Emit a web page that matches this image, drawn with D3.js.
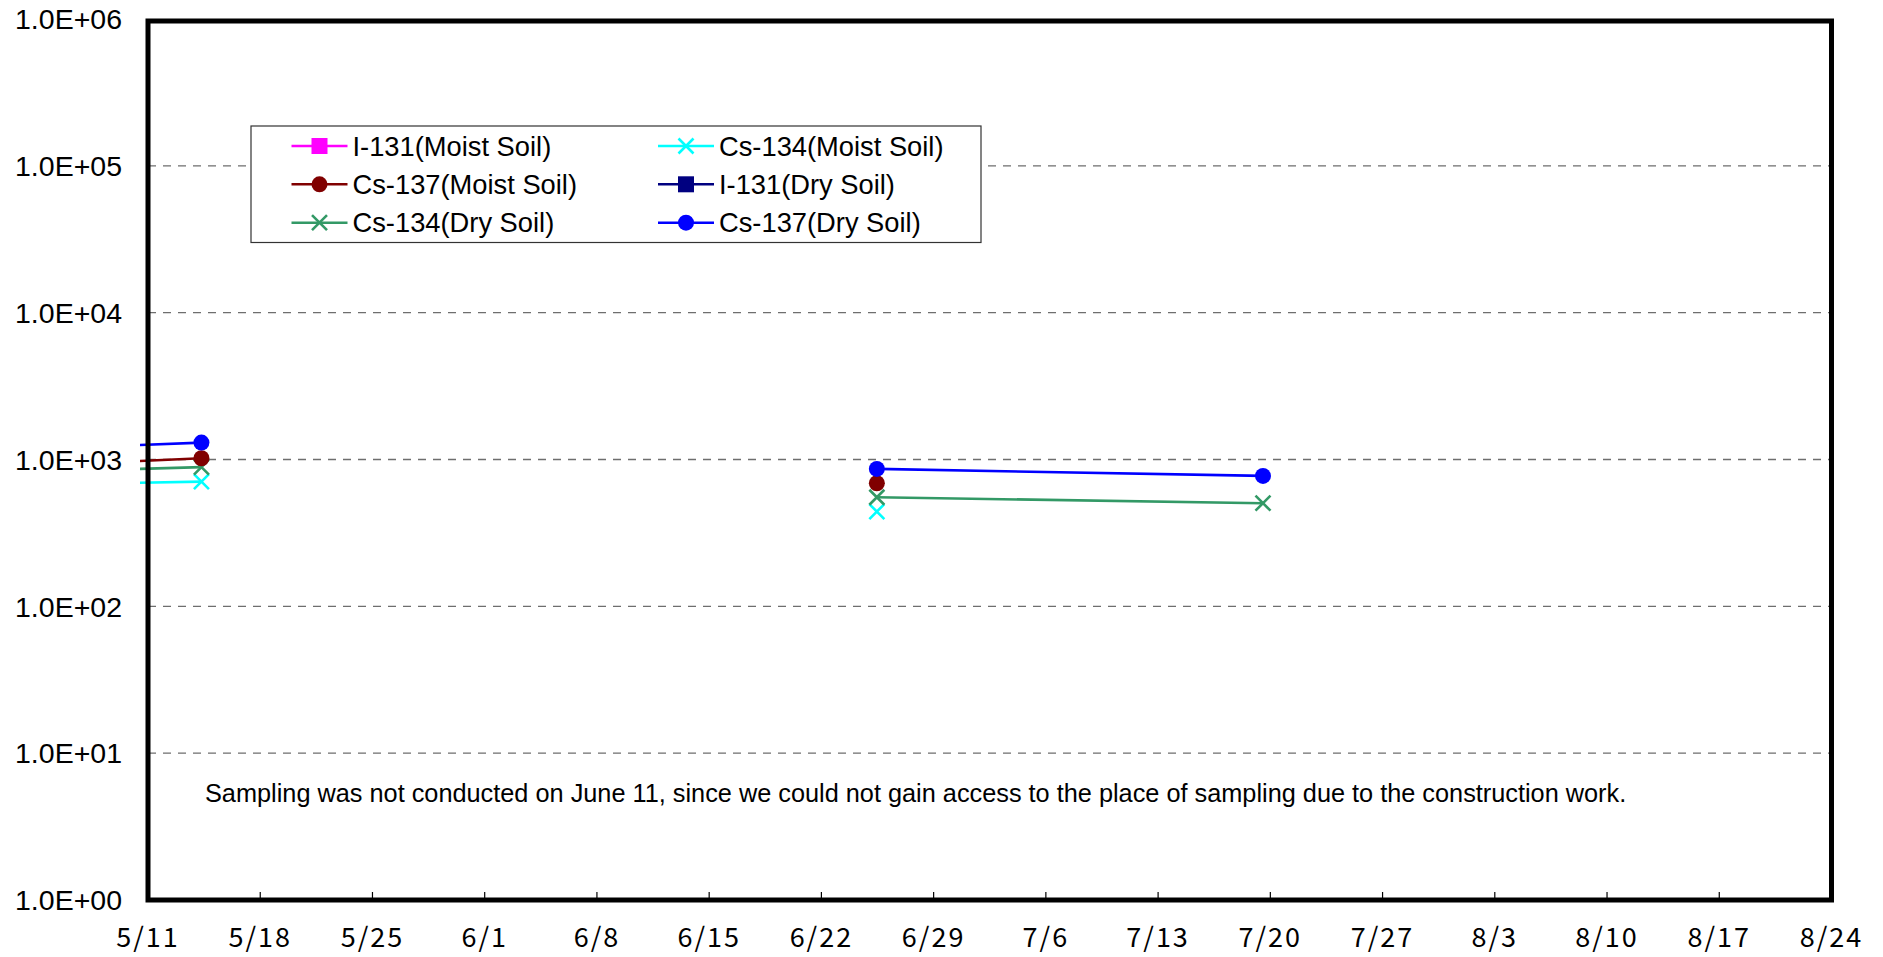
<!DOCTYPE html>
<html>
<head>
<meta charset="utf-8">
<script src="https://cdn.jsdelivr.net/npm/d3@7"></script>
<style>
  html, body { margin: 0; padding: 0; background: #fff; }
  svg { display: block; }
</style>
</head>
<body>
<svg id="chart" width="1883" height="957"></svg>
<script>
// ---------- DATA ----------
const sampleDates = ["2011-04-30T08:00", "2011-05-14T08:00", "2011-05-28T08:00", "2011-06-11T08:00", "2011-06-25T11:00", "2011-07-19T13:00"];
const seriesNames = ["I-131(Moist Soil)", "Cs-134(Moist Soil)", "Cs-137(Moist Soil)", "I-131(Dry Soil)", "Cs-134(Dry Soil)", "Cs-137(Dry Soil)"];
const i131Moist  = [null, null, null, null, null, null];
const cs134Moist = [660, 707, null, null, 442, null];
const cs137Moist = [869, 1020, null, null, 689, null];
const i131Dry    = [null, null, null, null, null, null];
const cs134Dry   = [802, 887, null, null, 553, 504];
const cs137Dry   = [1138, 1303, null, null, 863, 773];
const xTickLabels = ["5/11","5/18","5/25","6/1","6/8","6/15","6/22","6/29","7/6","7/13","7/20","7/27","8/3","8/10","8/17","8/24"];
const yTickValues = [1, 10, 100, 1000, 10000, 100000, 1000000];
const note = "Sampling was not conducted on June 11, since we could not gain access to the place of sampling due to the construction work.";

// ---------- STYLE ----------
const seriesStyle = [
  { color: "#FF00FF", marker: "square" },
  { color: "#00FFFF", marker: "x" },
  { color: "#800000", marker: "circle" },
  { color: "#000080", marker: "square" },
  { color: "#339966", marker: "x" },
  { color: "#0000FF", marker: "circle" }
];
const seriesValues = [i131Moist, cs134Moist, cs137Moist, i131Dry, cs134Dry, cs137Dry];

const svg = d3.select("#chart");
const L = 148, R = 1831.5, T = 21, B = 900;
const parse = d3.timeParse("%Y-%m-%dT%H:%M");
const parseTick = d3.timeParse("%Y/%m/%d");
const x = d3.scaleTime().domain([new Date(2011, 4, 11), new Date(2011, 7, 24)]).range([L, R]);
const y = d3.scaleLog().domain([1, 1e6]).range([B, 19]);

// gridlines
svg.append("g").selectAll("line").data(yTickValues.slice(1, -1)).join("line")
  .attr("x1", L).attr("x2", R).attr("y1", d => y(d)).attr("y2", d => y(d))
  .attr("stroke", "#6e6e6e").attr("stroke-width", 1.3).attr("stroke-dasharray", "8,7");

// y labels
svg.append("g").selectAll("text").data(yTickValues).join("text")
  .attr("x", 122).attr("y", d => y(d)).attr("dy", "0.36em")
  .attr("text-anchor", "end")
  .attr("font-family", "Liberation Sans, Arial, sans-serif").attr("font-size", 28.5)
  .attr("fill", "#000")
  .text(d => "1.0E+" + String(Math.round(Math.log10(d))).padStart(2, "0"));

// x ticks
const tickDates = xTickLabels.map(t => parseTick("2011/" + t));
svg.append("g").selectAll("line").data(tickDates).join("line")
  .attr("x1", d => x(d)).attr("x2", d => x(d)).attr("y1", B).attr("y2", B - 8)
  .attr("stroke", "#000").attr("stroke-width", 1.2);
svg.append("g").selectAll("text").data(tickDates).join("text")
  .attr("x", d => x(d)).attr("y", 947)
  .attr("text-anchor", "middle")
  .attr("font-family", "Noto Sans CJK JP, sans-serif").attr("font-size", 27)
  .attr("letter-spacing", 2)
  .attr("fill", "#000")
  .text((d, i) => xTickLabels[i]);

// clip
svg.append("clipPath").attr("id", "plotclip").append("rect")
  .attr("x", 140).attr("y", T).attr("width", R - 140).attr("height", B - T);

const dates = sampleDates.map(parse);
const line = d3.line().defined(d => d.v != null).x(d => x(d.t)).y(d => y(d.v));

function drawMarker(g, type, cx, cy, color) {
  if (type === "circle") {
    g.append("circle").attr("cx", cx).attr("cy", cy).attr("r", 8).attr("fill", color);
  } else if (type === "square") {
    g.append("rect").attr("x", cx - 8).attr("y", cy - 8).attr("width", 16).attr("height", 16).attr("fill", color);
  } else {
    g.append("path").attr("d", `M${cx-7.5},${cy-7.5}L${cx+7.5},${cy+7.5}M${cx-7.5},${cy+7.5}L${cx+7.5},${cy-7.5}`)
      .attr("stroke", color).attr("stroke-width", 2.6).attr("fill", "none");
  }
}

const drawOrder = [0, 1, 4, 2, 3, 5];
const plotG = svg.append("g").attr("clip-path", "url(#plotclip)");
drawOrder.forEach(si => {
  const pts = seriesValues[si].map((v, i) => ({ t: dates[i], v }));
  plotG.append("path").datum(pts).attr("d", line)
    .attr("fill", "none").attr("stroke", seriesStyle[si].color).attr("stroke-width", 2.6);
});
drawOrder.forEach(si => {
  const g = plotG.append("g");
  seriesValues[si].forEach((v, i) => {
    if (v == null) return;
    const px = x(dates[i]);
    if (px < L) return;
    drawMarker(g, seriesStyle[si].marker, px, y(v), seriesStyle[si].color);
  });
});

// plot frame
svg.append("rect").attr("x", L).attr("y", T).attr("width", R - L).attr("height", B - T)
  .attr("fill", "none").attr("stroke", "#000").attr("stroke-width", 5);

// legend
const lg = svg.append("g");
lg.append("rect").attr("x", 251).attr("y", 126).attr("width", 730).attr("height", 116.5)
  .attr("fill", "#fff").attr("stroke", "#333").attr("stroke-width", 1.2);
const legendPos = [
  { x: 291.5, y: 146 }, { x: 658, y: 146 },
  { x: 291.5, y: 184.3 }, { x: 658, y: 184.3 },
  { x: 291.5, y: 222.7 }, { x: 658, y: 222.7 }
];
seriesNames.forEach((name, i) => {
  const p = legendPos[i], c = seriesStyle[i].color;
  lg.append("line").attr("x1", p.x).attr("x2", p.x + 56).attr("y1", p.y).attr("y2", p.y)
    .attr("stroke", c).attr("stroke-width", 2.6);
  drawMarker(lg, seriesStyle[i].marker, p.x + 28, p.y, c);
  lg.append("text").attr("x", p.x + 61).attr("y", p.y).attr("dy", "0.35em")
    .attr("font-family", "Liberation Sans, Arial, sans-serif").attr("font-size", 27.3)
    .attr("fill", "#000").text(name);
});

// note
svg.append("text").attr("x", 205).attr("y", 802)
  .attr("font-family", "Liberation Sans, Arial, sans-serif").attr("font-size", 25.3)
  .attr("fill", "#000").text(note);
</script>
</body>
</html>
